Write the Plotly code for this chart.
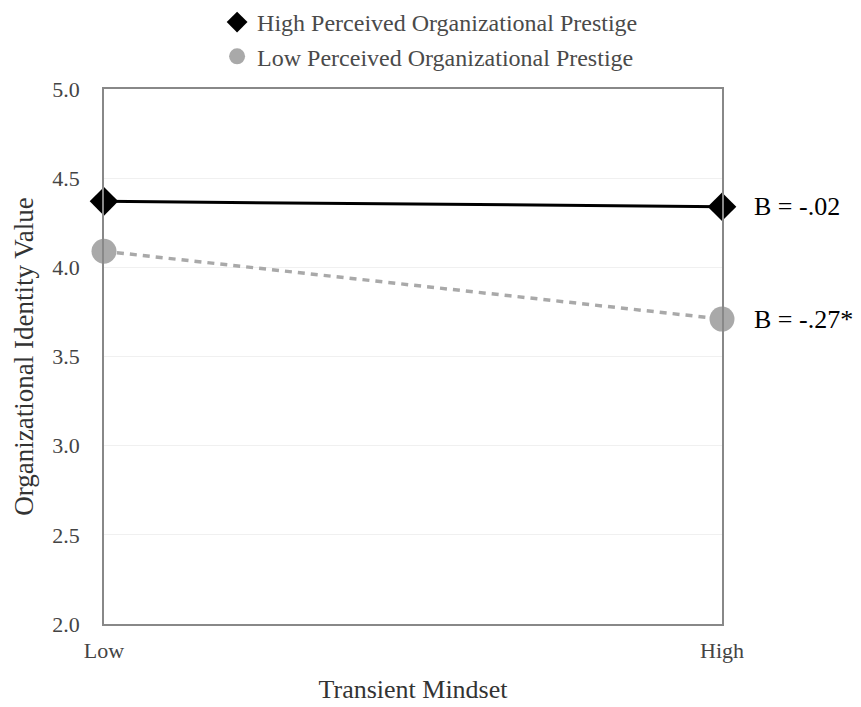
import plotly.graph_objects as go

categories = ["Low", "High"]
x_pos = [0, 1]
high_prestige = [4.37, 4.34]
low_prestige = [4.09, 3.71]
slope_labels = ["B = -.02", "B = -.27*"]
y_ticks = [2.0, 2.5, 3.0, 3.5, 4.0, 4.5, 5.0]
series_names = ["High Perceived Organizational Prestige", "Low Perceived Organizational Prestige"]

FONT = "Liberation Serif"

fig = go.Figure()
fig.add_trace(go.Scatter(
    x=x_pos, y=high_prestige, mode="lines+markers", showlegend=False,
    line=dict(color="black", width=3),
    marker=dict(symbol="diamond", size=22, color="black"),
    cliponaxis=False,
))
fig.add_trace(go.Scatter(
    x=x_pos, y=low_prestige, mode="lines+markers", showlegend=False,
    line=dict(color="#a9a9a9", width=3.5, dash="7px,6px"),
    marker=dict(symbol="circle", size=25, color="#a9a9a9"),
    cliponaxis=False,
))
# legend entries (marker only, as in the reference)
fig.add_trace(go.Scatter(x=[None], y=[None], mode="markers", name=series_names[0],
                         marker=dict(symbol="diamond", size=18, color="black")))
fig.add_trace(go.Scatter(x=[None], y=[None], mode="markers", name=series_names[1],
                         marker=dict(symbol="circle", size=18, color="#a9a9a9")))

for yv, txt in zip([high_prestige[1], low_prestige[1]], slope_labels):
    fig.add_annotation(x=1, y=yv, xref="x", yref="y", text=txt,
                       showarrow=False, xanchor="left", xshift=30,
                       font=dict(family=FONT, size=26, color="black"))

fig.update_layout(
    width=861, height=707,
    margin=dict(l=104, r=139, t=89, b=83, autoexpand=False),
    paper_bgcolor="white", plot_bgcolor="white",
    font=dict(family=FONT, color="#444"),
    showlegend=True,
    legend=dict(orientation="v", x=0.183, xanchor="left", y=1.0, yanchor="top",
                yref="container", font=dict(family=FONT, size=24, color="#4a4a4a"),
                itemsizing="trace", tracegroupgap=0),
    xaxis=dict(range=[0, 1], tickvals=x_pos, ticktext=categories,
               showgrid=False, zeroline=False,
               showline=True, linecolor="#888", linewidth=1.5, mirror=True,
               ticks="", ticklabelstandoff=6,
               tickfont=dict(family=FONT, size=22, color="#444"),
               title=dict(text="Transient Mindset", standoff=18,
                          font=dict(family=FONT, size=26, color="#333"))),
    yaxis=dict(range=[2.0, 5.0], tickvals=y_ticks,
               ticktext=[f"{v:.1f}" for v in y_ticks],
               showgrid=True, gridcolor="#f0f0f0", gridwidth=1, zeroline=False,
               showline=True, linecolor="#888", linewidth=1.5, mirror=True,
               ticks="", ticklabelstandoff=18,
               tickfont=dict(family=FONT, size=22, color="#444"),
               title=dict(text="Organizational Identity Value", standoff=11,
                          font=dict(family=FONT, size=27, color="#333"))),
)

fig.write_html("out.html")
